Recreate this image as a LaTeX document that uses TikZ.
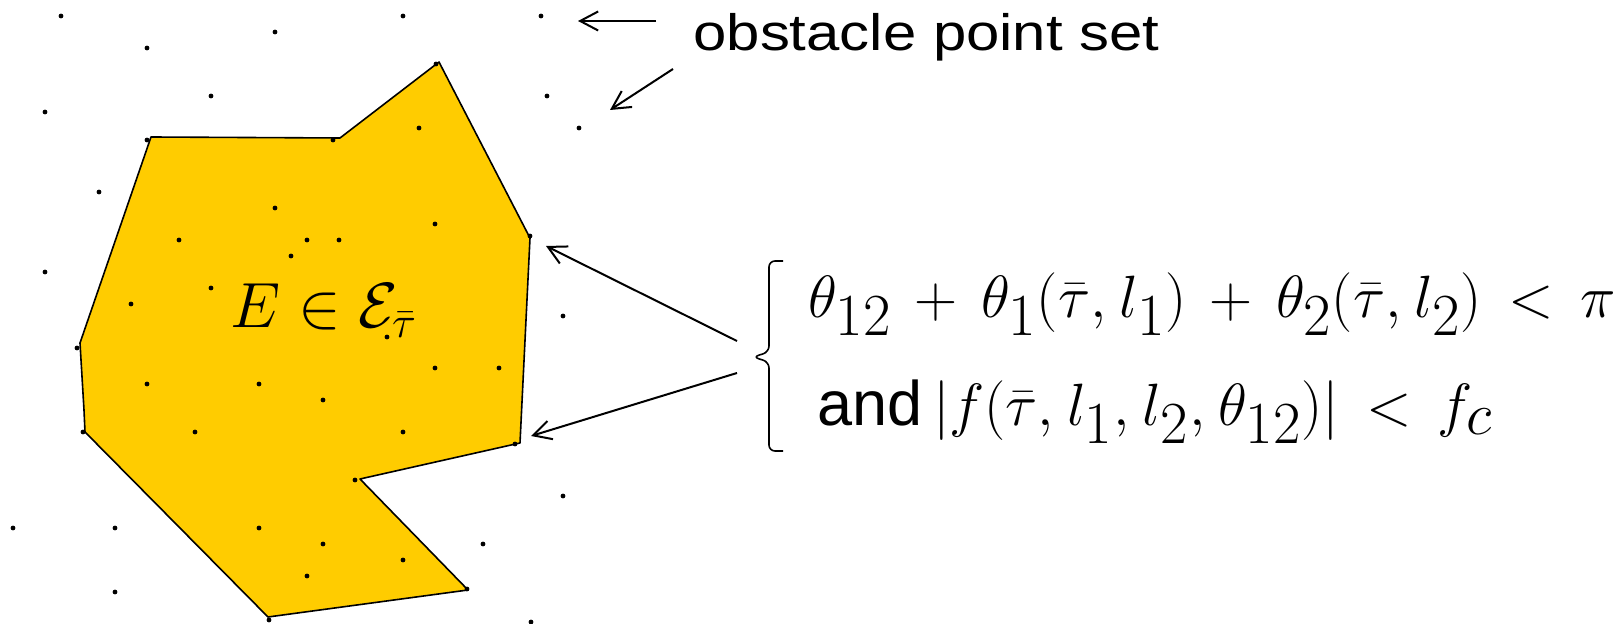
\documentclass[tikz,border=0pt]{standalone}
\usepackage[no-math]{fontspec}
\setmainfont{Liberation Sans}
\usetikzlibrary{arrows.meta}
\DeclareMathSizes{24.88}{24.88}{24.88}{20.74}
\DeclareMathSizes{20.74}{20.74}{14.4}{12}
\definecolor{regiongold}{RGB}{255,204,0}
\tikzset{
  obst/.style={circle, fill=black, inner sep=0pt, minimum size=2.4pt},
  pointer/.style={draw=black, line width=1pt, -{Straight Barb[length=9pt,width=9.5pt]}},
  region/.style={fill=regiongold, draw=black, line width=0.8pt, line join=round},
  txt/.style={inner sep=0pt, anchor=base west},
  bracepath/.style={draw=black, line width=0.8pt, rounded corners=3pt},
}
\begin{document}
\begin{tikzpicture}[x=0.5pt,y=-0.5pt]
\useasboundingbox (0,0) rectangle (1618,624);
\fill[white] (0,0) rectangle (1618,624);

% region E
\draw[region] (151,137) -- (340,138) -- (439,62) -- (530,238) -- (520,443)
  -- (360,479) -- (468,590) -- (268,617) -- (85,432) -- (84,410) -- (80,343) -- cycle;

% obstacle points
\foreach \p [count=\i] in {(61,16),(275,32),(147,48),(403,16),(541,16),(211,96),(45,112),
  (547,96),(579,128),(419,128),(99,192),(275,208),(435,224),(179,240),(307,240),(339,240),
  (291,256),(45,272),(211,288),(131,304),(563,316),(387,337),(435,368),(499,368),(147,384),
  (259,384),(323,400),(195,432),(403,432),(563,496),(13,528),(115,528),(259,528),(323,544),
  (483,544),(403,560),(307,576),(115,592),(531,622),
  (436,64),(147,140),(333,140),(530,236),(515,444),(355,480),(467,589),(269,620),(83,432),(77,348)}
  \node[obst] (d\i) at \p {};

% texts
\node[txt] (Elabel) at (230,328) {\fontsize{20.74}{25}\selectfont\scalebox{1.54}{$E\in\mathcal{E}_{\bar\tau}$}};
\node[txt] (obsttxt) at (693,51) {\fontsize{25.6}{30}\selectfont\scalebox{1.17}[1]{obstacle point set}};
\node[txt] (cond1) at (808,318) {\fontsize{24.88}{30}\selectfont\thinmuskip=4mu\medmuskip=7mu\thickmuskip=8mu
  \scalebox{1.2}{$\theta_{12}+\theta_1(\bar\tau,l_1)+\theta_2(\bar\tau,l_2)<\pi$}};
\node[txt] (cond2) at (817,426) {\fontsize{31.5}{36}\selectfont and\,\fontsize{24.88}{30}\selectfont\thinmuskip=4mu\thickmuskip=8mu
  \scalebox{1.2}{$|f(\bar\tau,l_1,l_2,\theta_{12})|<f_c$}};

% brace
\draw[bracepath] (783,261) -- (769,261) -- (769,352) -- (753,357) -- (769,362) -- (769,451) -- (783,451);

% arrows
\coordinate (t1) at (656,21);  \coordinate (h1) at (578,21);
\coordinate (t2) at (673,69);  \coordinate (h2) at (610,110);
\coordinate (t3) at (737,341); \coordinate (h3) at (546,246);
\coordinate (t4) at (737,373); \coordinate (h4) at (531,436);
\draw[pointer] (t1) -- (h1);
\draw[pointer] (t2) -- (h2);
\draw[pointer] (t3) -- (h3);
\draw[pointer] (t4) -- (h4);
\end{tikzpicture}
\end{document}
